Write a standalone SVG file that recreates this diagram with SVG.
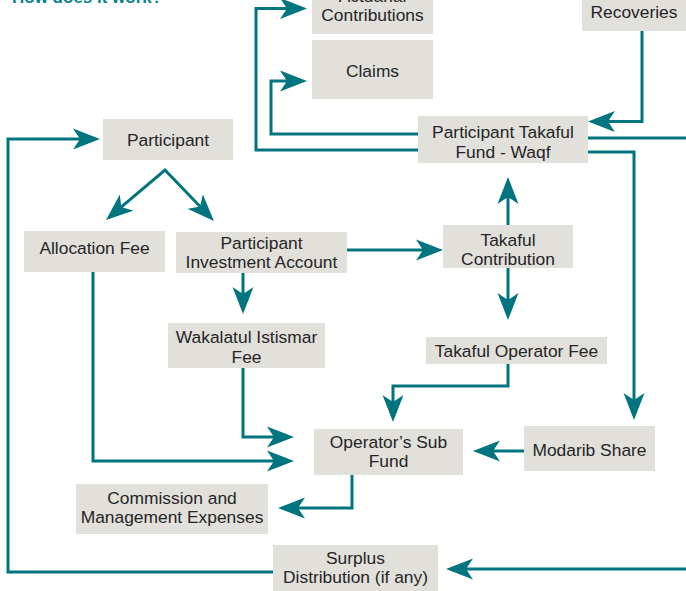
<svg xmlns="http://www.w3.org/2000/svg" width="686" height="591" viewBox="0 0 686 591">
<style>
.box{fill:#e1e0db}
.t{font-family:"Liberation Sans",Arial,sans-serif;font-size:17.4px;fill:#262626;text-anchor:middle}
.title{font-family:"Liberation Sans",Arial,sans-serif;font-size:17px;font-weight:bold;fill:#0a8290}
.c{fill:none;stroke:#00747f;stroke-width:3;marker-end:url(#ah)}
.n{fill:none;stroke:#00747f;stroke-width:3}
</style>
<defs>
<marker id="ah" viewBox="0 -11 27 22" refX="8" refY="0" markerWidth="27" markerHeight="22" markerUnits="userSpaceOnUse" orient="auto-start-reverse">
<path d="M27,0 L0,-10.5 L7,0 L0,10.5 Z" fill="#00747f"/>
</marker>
</defs>
<rect width="686" height="591" fill="#ffffff"/>
<text class="title" x="12" y="3">How does it work?</text>
<g id="connectors">
<path class="c" d="M418,150 H256 V8.5 H288"/>
<path class="c" d="M418,134 H271 V81 H288"/>
<path class="c" d="M642,31 V121.5 H607"/>
<path class="n" d="M588,138 H686"/>
<path class="c" d="M588,152 H634 V401"/>
<path class="c" style="marker-start:url(#ah)" d="M120.5,207.7 L165,170 L200.8,207.3"/>
<path class="c" d="M273,572 H8 V139 H81"/>
<path class="c" d="M347,250 H424"/>
<path class="c" d="M508,225 V196"/>
<path class="c" d="M508,268 V301"/>
<path class="c" d="M243,273 V295"/>
<path class="c" d="M243,368 V437 H275"/>
<path class="c" d="M93,272 V461 H275"/>
<path class="c" d="M508,364 V386 H393 V403"/>
<path class="c" d="M524,451 H492"/>
<path class="c" d="M352,475 V508 H297"/>
<path class="c" d="M686,569 H465"/>
</g>
<g id="contributions"><rect class="box" x="312" y="-10" width="121" height="44"/><text class="t" x="372.5" y="2">Actuarial</text><text class="t" x="372.5" y="21">Contributions</text></g>
<g id="claims"><rect class="box" x="312" y="40" width="121" height="59"/><text class="t" x="372.5" y="77">Claims</text></g>
<g id="recoveries"><rect class="box" x="582" y="-10" width="110" height="41"/><text class="t" x="634" y="18">Recoveries</text></g>
<g id="ptf"><rect class="box" x="418" y="116" width="170" height="47"/><text class="t" x="503" y="138">Participant Takaful</text><text class="t" x="503" y="157.5">Fund - Waqf</text></g>
<g id="participant"><rect class="box" x="103" y="119" width="130" height="41"/><text class="t" x="168" y="146">Participant</text></g>
<g id="allocation"><rect class="box" x="24" y="231" width="141" height="41"/><text class="t" x="94.5" y="254">Allocation Fee</text></g>
<g id="pia"><rect class="box" x="176" y="232" width="171" height="41"/><text class="t" x="261.5" y="248.5">Participant</text><text class="t" x="261.5" y="267.5">Investment Account</text></g>
<g id="tc"><rect class="box" x="443" y="225" width="130" height="43"/><text class="t" x="508" y="246">Takaful</text><text class="t" x="508" y="265">Contribution</text></g>
<g id="tof"><rect class="box" x="426" y="337" width="181" height="27"/><text class="t" x="516.5" y="357">Takaful Operator Fee</text></g>
<g id="wakalatul"><rect class="box" x="168" y="323" width="157" height="45"/><text class="t" x="246.5" y="343">Wakalatul Istismar</text><text class="t" x="246.5" y="363">Fee</text></g>
<g id="osf"><rect class="box" x="314" y="429" width="149" height="46"/><text class="t" x="388.5" y="448">Operator’s Sub</text><text class="t" x="388.5" y="467">Fund</text></g>
<g id="modarib"><rect class="box" x="524" y="426" width="131" height="45"/><text class="t" x="589.5" y="456">Modarib Share</text></g>
<g id="commission"><rect class="box" x="76" y="484" width="192" height="50"/><text class="t" x="172" y="504">Commission and</text><text class="t" x="172" y="523">Management Expenses</text></g>
<g id="surplus"><rect class="box" x="273" y="545" width="165" height="50"/><text class="t" x="355.5" y="564">Surplus</text><text class="t" x="355.5" y="583">Distribution (if any)</text></g>
</svg>
